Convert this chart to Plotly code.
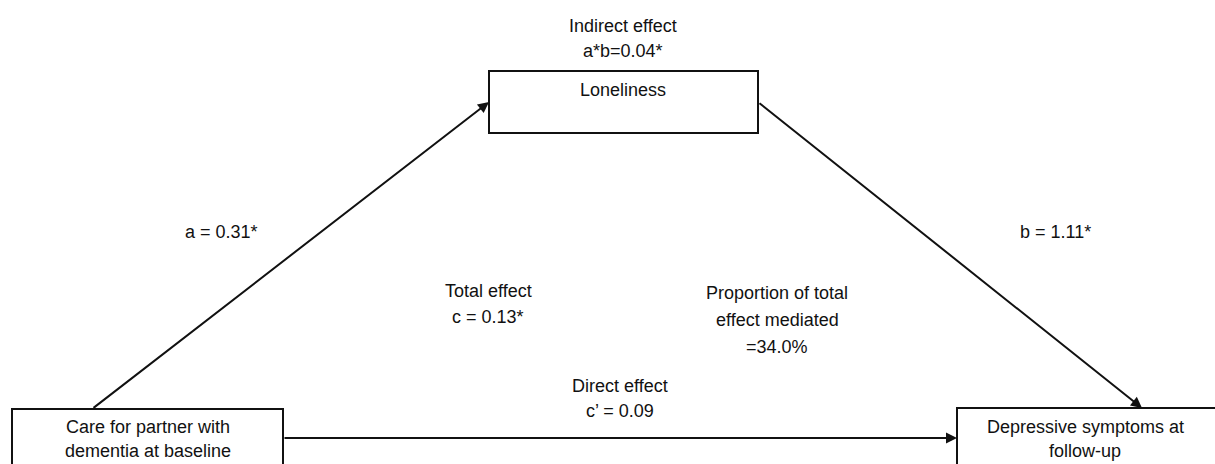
import plotly.graph_objects as go

# Nodes of the mediation model
node_lines = {
    "exposure": ["Care for partner with", "dementia at baseline"],
    "mediator": ["Loneliness"],
    "outcome": ["Depressive symptoms at", "follow-up"],
}
# Path coefficients
path_a = 0.31
path_b = 1.11
path_c = 0.13
path_c_prime = 0.09
indirect_ab = 0.04
prop_mediated = 34.0

W, H = 1215, 464
FONT = dict(family="Liberation Sans, Arial, Helvetica, sans-serif", size=18, color="#111111")

fig = go.Figure()
fig.update_layout(
    width=W, height=H, margin=dict(l=0, r=0, t=0, b=0),
    paper_bgcolor="white", plot_bgcolor="white", showlegend=False,
    xaxis=dict(range=[0, W], visible=False, fixedrange=True),
    yaxis=dict(range=[H, 0], visible=False, fixedrange=True),
)

box_line = dict(color="#111111", width=2)
# boxes: (x0, y0, x1, y1)
boxes = [(12, 409, 283, 500), (489, 71, 758, 133), (957, 408, 1240, 500)]
for (x0, y0, x1, y1) in boxes:
    fig.add_shape(type="rect", xref="x", yref="y", x0=x0, y0=y0, x1=x1, y1=y1,
                  line=box_line, fillcolor="rgba(0,0,0,0)")

# arrows: (from_x, from_y, to_x, to_y)
arrows = [(92, 409, 489, 102), (758, 102, 1142, 408), (283, 438, 957, 438)]
for (fx, fy, tx, ty) in arrows:
    fig.add_annotation(x=tx, y=ty, ax=fx, ay=fy, xref="x", yref="y", axref="x", ayref="y",
                       showarrow=True, arrowhead=2, arrowsize=1.1, arrowwidth=2,
                       arrowcolor="#111111", text="", standoff=0)

def txt(x, ys, lines):
    for y, s in zip(ys, lines):
        fig.add_annotation(x=x, y=y, xref="x", yref="y", text=s, showarrow=False,
                           font=FONT, xanchor="center", yanchor="middle", align="center")

# node labels
txt(148, [427, 451], node_lines["exposure"])
txt(623, [90], node_lines["mediator"])
txt(1085, [427, 451], node_lines["outcome"])

# path labels
txt(623, [26, 51], ["Indirect effect", f"a*b={indirect_ab:.2f}*"])
txt(221, [232], [f"a = {path_a:.2f}*"])
txt(1055, [232], [f"b = {path_b:.2f}*"])
txt(488, [291, 317], ["Total effect", f"c = {path_c:.2f}*"])
txt(777, [293, 320, 347], ["Proportion of total", "effect mediated", f"={prop_mediated:.1f}%"])
txt(620, [386, 411], ["Direct effect", f"c’ = {path_c_prime:.2f}"])

fig.write_html("out.html", config={"displayModeBar": False, "staticPlot": True},
               post_script="document.body.style.margin='0';")
